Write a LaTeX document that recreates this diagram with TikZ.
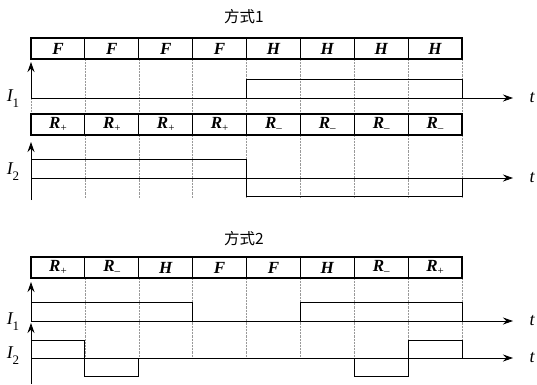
\documentclass[tikz,border=0pt]{standalone}
\usepackage{fontspec}
\setmainfont{Liberation Serif}
\newfontfamily\cjk{Noto Sans CJK SC}
\usetikzlibrary{arrows.meta}
\newcommand{\Rp}{R\raisebox{-3pt}{\fontsize{11}{11}\selectfont\normalfont +}}
\newcommand{\Rm}{R\raisebox{-3pt}{\fontsize{11}{11}\selectfont\normalfont \textendash}}
\newcommand{\Isub}[1]{I\raisebox{-6pt}{\fontsize{13}{13}\selectfont\normalfont #1}}
\begin{document}
\begin{tikzpicture}[x=1pt,y=-1pt,
 cell/.style={draw, line width=1.1pt, minimum width=53.875pt, minimum height=21pt, inner sep=0pt, font=\fontsize{17}{17}\selectfont\bfseries\itshape},
 gridl/.style={densely dotted, gray!80, line width=0.45pt},
 sig/.style={line width=0.9pt},
 axis/.style={line width=0.9pt, -{Stealth[length=10pt,width=7pt]}},
 lbl/.style={font=\fontsize{18}{18}\selectfont\itshape, inner sep=0pt},
 ttl/.style={font=\fontsize{15.5}{15.5}\selectfont\cjk, inner sep=0pt}]
\useasboundingbox (0,0) rectangle (537,384);
% grid
\foreach \i in {1,...,8}{
  \pgfmathsetmacro{\xx}{31+\i*53.875}
  \draw[gridl] (\xx,59) -- (\xx,114);
  \draw[gridl] (\xx,135) -- (\xx,198);
  \draw[gridl] (\xx,278) -- (\xx,358);
}
\draw[gridl] (31,98) -- (31,114);
% titles
\node[ttl] (t1) at (244,17) {方式1};
\node[ttl] (t2) at (244,239) {方式2};
% rows
\foreach \lab [count=\i from 0] in {F,F,F,F,H,H,H,H}{
  \node[cell] (a\i) at ({31+(\i+0.5)*53.875},48.5) {\lab};
}
\foreach \lab [count=\i from 0] in {\Rp,\Rp,\Rp,\Rp,\Rm,\Rm,\Rm,\Rm}{
  \node[cell] (b\i) at ({31+(\i+0.5)*53.875},124.5) {\lab};
}
\foreach \lab [count=\i from 0] in {\Rp,\Rm,H,F,F,H,\Rm,\Rp}{
  \node[cell] (c\i) at ({31+(\i+0.5)*53.875},267.5) {\lab};
}
% section 1 I1
\coordinate (o1) at (31,98);
\coordinate (y1) at (31,62);
\coordinate (e1) at (513,98);
\draw[axis] (o1) -- (y1);
\draw[axis] (o1) -- (e1);
\draw[sig] (246.5,98) -- (246.5,79) -- (462,79) -- (462,98);
% section 1 I2
\coordinate (o2) at (31,178);
\coordinate (b2) at (31,200);
\coordinate (y2) at (31,142);
\coordinate (e2) at (513,178);
\draw[axis] (b2) -- (y2);
\draw[axis] (o2) -- (e2);
\draw[sig] (31,159) -- (246.5,159) -- (246.5,196) -- (462,196) -- (462,178);
% section 2 I1
\coordinate (o3) at (31,321);
\coordinate (y3) at (31,282);
\coordinate (e3) at (513,321);
\draw[axis] (o3) -- (y3);
\draw[axis] (o3) -- (e3);
\draw[sig] (31,302) -- (192.625,302) -- (192.625,321);
\draw[sig] (300.375,321) -- (300.375,302) -- (462,302) -- (462,321);
% section 2 I2
\coordinate (o4) at (31,358);
\coordinate (b4) at (31,384);
\coordinate (y4) at (31,323);
\coordinate (e4) at (513,358);
\draw[axis] (b4) -- (y4);
\draw[axis] (o4) -- (e4);
\draw[sig] (31,340) -- (84.875,340) -- (84.875,376) -- (138.75,376) -- (138.75,358);
\draw[sig] (354.25,358) -- (354.25,376) -- (408.125,376) -- (408.125,340) -- (462,340) -- (462,358);
% labels
\node[lbl] (l1) at (13,99) {\Isub{1}};
\node[lbl] (l2) at (13,172) {\Isub{2}};
\node[lbl] (l3) at (13,322) {\Isub{1}};
\node[lbl] (l4) at (13,356) {\Isub{2}};
\node[lbl] (s1) at (532,98) {t};
\node[lbl] (s2) at (532,178) {t};
\node[lbl] (s3) at (532,321) {t};
\node[lbl] (s4) at (532,358) {t};
\end{tikzpicture}
\end{document}
